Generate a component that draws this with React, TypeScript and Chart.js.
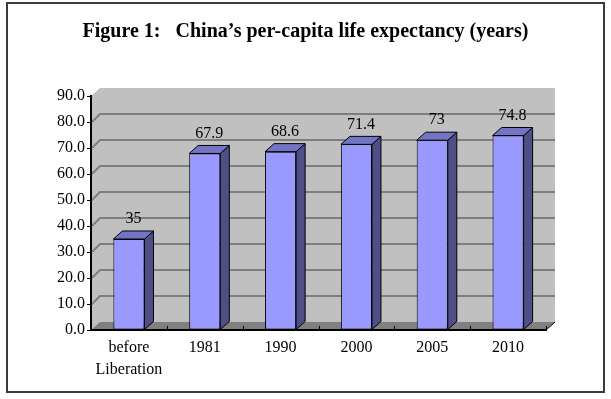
import React, { useEffect, useRef } from "react";
import { Chart, registerables } from "chart.js";

Chart.register(...registerables);

const categories: (string | string[])[] = [["before", "Liberation"], "1981", "1990", "2000", "2005", "2010"];
const lifeExpectancy: number[] = [35, 67.9, 68.6, 71.4, 73, 74.8];
const valueLabels: string[] = ["35", "67.9", "68.6", "71.4", "73", "74.8"];
const yMin = 0;
const yMax = 90;
const yStep = 10;
const titleText = "Figure 1:   China\u2019s per-capita life expectancy (years)";

const DX = 9;
const DY = 8;
const FONT = "'Liberation Serif', 'Times New Roman', serif";

const threeD = {
  id: "threeD",
  beforeDraw(chart: any) {
    const { ctx, chartArea, scales } = chart;
    const { left: L, right: R, top: T, bottom: B } = chartArea;
    const ys = scales.y;
    const xs = scales.x;
    ctx.save();
    ctx.fillStyle = "#ffffff";
    ctx.fillRect(0, 0, chart.width, chart.height);
    // outer frame
    ctx.strokeStyle = "#3c3c3c";
    ctx.lineWidth = 2;
    ctx.strokeRect(7, 3, 597, 389);
    // walls
    ctx.fillStyle = "#c0c0c0";
    ctx.beginPath();
    ctx.moveTo(L, B);
    ctx.lineTo(L, T);
    ctx.lineTo(L + DX, T - DY);
    ctx.lineTo(R + DX, T - DY);
    ctx.lineTo(R + DX, B - DY);
    ctx.lineTo(L, B);
    ctx.closePath();
    ctx.fill();
    // floor
    ctx.fillStyle = "#808080";
    ctx.beginPath();
    ctx.moveTo(L, B);
    ctx.lineTo(L + DX, B - DY);
    ctx.lineTo(R + DX, B - DY);
    ctx.lineTo(R, B);
    ctx.closePath();
    ctx.fill();
    // gridlines on walls
    ctx.strokeStyle = "#7e7e7e";
    ctx.lineWidth = 1.8;
    for (let v = yMin + yStep; v < yMax; v += yStep) {
      const y = ys.getPixelForValue(v);
      ctx.beginPath();
      ctx.moveTo(L + 1, y);
      ctx.lineTo(L + DX, y - DY);
      ctx.lineTo(R + DX, y - DY);
      ctx.stroke();
    }
    // floor right edge
    ctx.strokeStyle = "#000000";
    ctx.lineWidth = 1;
    ctx.beginPath();
    ctx.moveTo(R, B);
    ctx.lineTo(R + DX, B - DY);
    ctx.stroke();
    // category tick marks on the floor edge
    const half = (xs.getPixelForValue(1) - xs.getPixelForValue(0)) / 2;
    for (let i = 0; i < categories.length; i++) {
      const x = Math.round(xs.getPixelForValue(i) + half) + 0.5;
      ctx.beginPath();
      ctx.moveTo(x, B);
      ctx.lineTo(x, B - 4);
      ctx.stroke();
    }
    ctx.restore();
  },
  afterDatasetsDraw(chart: any) {
    const { ctx } = chart;
    const meta = chart.getDatasetMeta(0);
    ctx.save();
    ctx.lineWidth = 1;
    ctx.strokeStyle = "#000000";
    meta.data.forEach((el: any, i: number) => {
      const { x, y, base, width } = el.getProps(["x", "y", "base", "width"], true);
      const l = x - width / 2;
      const r = x + width / 2;
      // side face
      ctx.fillStyle = "#4f4f88";
      ctx.beginPath();
      ctx.moveTo(r, y);
      ctx.lineTo(r + DX, y - DY);
      ctx.lineTo(r + DX, base - DY);
      ctx.lineTo(r, base);
      ctx.closePath();
      ctx.fill();
      ctx.stroke();
      // top face
      ctx.fillStyle = "#7474c4";
      ctx.beginPath();
      ctx.moveTo(l, y);
      ctx.lineTo(l + DX, y - DY);
      ctx.lineTo(r + DX, y - DY);
      ctx.lineTo(r, y);
      ctx.closePath();
      ctx.fill();
      ctx.stroke();
      // value label
      ctx.fillStyle = "#000000";
      ctx.font = `16px ${FONT}`;
      ctx.textAlign = "center";
      ctx.textBaseline = "middle";
      ctx.fillText(valueLabels[i], x + DX / 2, y - DY - 12);
    });
    ctx.restore();
  },
};

export default function App() {
  const ref = useRef<HTMLCanvasElement | null>(null);
  useEffect(() => {
    if (!ref.current) return;
    const chart = new Chart(ref.current, {
      type: "bar",
      data: {
        labels: categories,
        datasets: [
          {
            data: lifeExpectancy,
            backgroundColor: "#9999ff",
            borderColor: "#000000",
            borderWidth: 1,
            borderSkipped: false,
            categoryPercentage: 1,
            barPercentage: 0.41,
          },
        ],
      },
      options: {
        responsive: false,
        animation: false,
        devicePixelRatio: 1,
        layout: { padding: { left: 0, top: 0, right: 0, bottom: 0 } },
        plugins: {
          legend: { display: false },
          tooltip: { enabled: false },
          title: {
            display: true,
            text: titleText,
            color: "#000000",
            font: { family: FONT, size: 20, weight: "bold", lineHeight: 1.2 },
            padding: { top: 20, bottom: 52 },
          },
        },
        scales: {
          x: {
            grid: { display: false, drawTicks: false },
            border: { display: true, color: "#000000", width: 2 },
            ticks: {
              color: "#000000",
              font: { family: FONT, size: 16, lineHeight: 1.375 },
              padding: 7,
              maxRotation: 0,
              autoSkip: false,
            },
            afterFit(scale: any) {
              scale.height = 69;
            },
          },
          y: {
            min: yMin,
            max: yMax,
            grid: { drawOnChartArea: false, drawTicks: true, tickLength: 4, color: "#000000" },
            border: { display: true, color: "#000000", width: 2 },
            ticks: {
              stepSize: yStep,
              color: "#000000",
              font: { family: FONT, size: 16 },
              padding: 2,
              callback: (v: any) => Number(v).toFixed(1),
            },
            afterFit(scale: any) {
              scale.width = 91;
            },
          },
          yRight: {
            position: "right",
            min: yMin,
            max: yMax,
            grid: { display: false, drawTicks: false },
            border: { display: false },
            ticks: { display: false },
            afterFit(scale: any) {
              scale.width = 65;
            },
          },
        },
      },
      plugins: [threeD],
    });
    return () => chart.destroy();
  }, []);
  return (
    <div style={{ position: "absolute", left: 0, top: 0, width: 611, height: 399 }}>
      <canvas ref={ref} width={611} height={399} style={{ width: 611, height: 399, display: "block" }} />
    </div>
  );
}
